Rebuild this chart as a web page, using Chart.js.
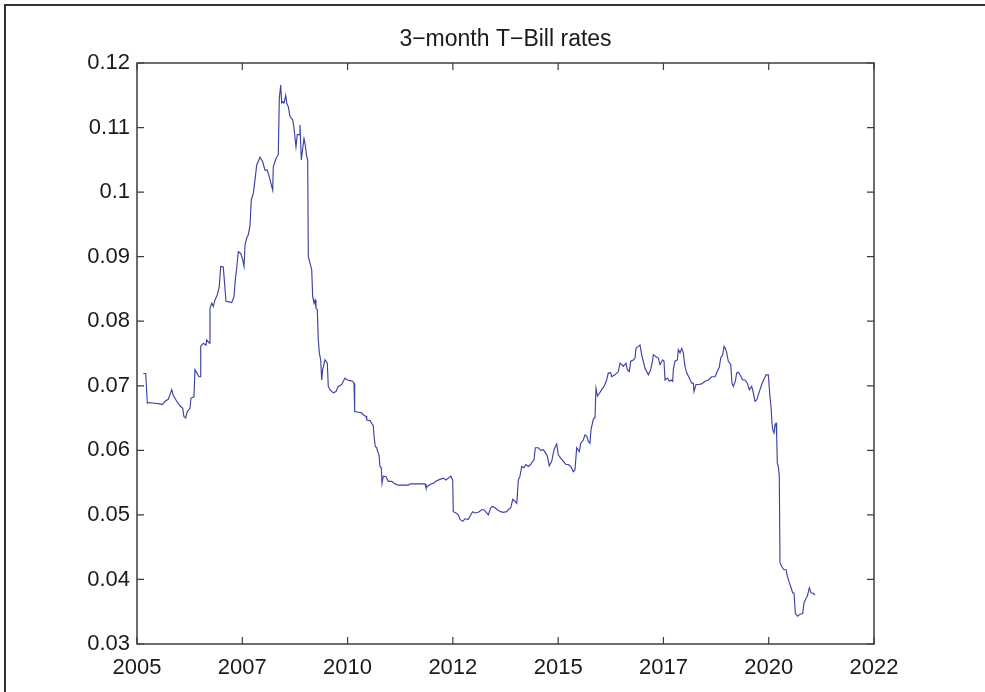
<!DOCTYPE html>
<html>
<head>
<meta charset="utf-8">
<title>3-month T-Bill rates</title>
<script src="https://cdn.jsdelivr.net/npm/chart.js@4/dist/chart.umd.min.js"></script>
<style>
  html, body { margin: 0; padding: 0; background: #ffffff; }
  #wrap { width: 985px; height: 692px; position: relative; }
</style>
</head>
<body>
<div id="wrap"><canvas id="chart" width="985" height="692"></canvas></div>
<script>
// Sample dates (decimal years) and the 3-month T-Bill rate at each
const sampleYears = [
  2005.150, 2005.207, 2005.245, 2005.285, 2005.427, 2005.546, 2005.601, 2005.665, 2005.743, 2005.824,
  2005.862, 2005.943, 2006.021, 2006.085, 2006.116, 2006.156, 2006.194, 2006.258, 2006.282, 2006.353,
  2006.377, 2006.418, 2006.472, 2006.496, 2006.513, 2006.574, 2006.638, 2006.655, 2006.717, 2006.733,
  2006.774, 2006.812, 2006.852, 2006.907, 2006.954, 2006.987, 2007.049, 2007.073, 2007.113, 2007.249,
  2007.303, 2007.334, 2007.367, 2007.405, 2007.462, 2007.510, 2007.541, 2007.565, 2007.605, 2007.643,
  2007.683, 2007.714, 2007.762, 2007.802, 2007.842, 2007.921, 2007.985, 2008.039, 2008.094, 2008.141,
  2008.198, 2008.222, 2008.236, 2008.301, 2008.355, 2008.379, 2008.412, 2008.436, 2008.460, 2008.491,
  2008.531, 2008.555, 2008.593, 2008.633, 2008.697, 2008.728, 2008.775, 2008.806, 2008.854, 2008.870,
  2008.901, 2008.935, 2008.965, 2008.996, 2009.030, 2009.053, 2009.068, 2009.108, 2009.148, 2009.172,
  2009.203, 2009.227, 2009.250, 2009.281, 2009.305, 2009.329, 2009.362, 2009.386, 2009.409, 2009.464,
  2009.519, 2009.542, 2009.583, 2009.661, 2009.725, 2009.780, 2009.861, 2009.939, 2009.994, 2010.058,
  2010.122, 2010.153, 2010.169, 2010.255, 2010.335, 2010.390, 2010.438, 2010.454, 2010.533, 2010.573,
  2010.611, 2010.628, 2010.659, 2010.692, 2010.715, 2010.746, 2010.770, 2010.801, 2010.818, 2010.848,
  2010.913, 2010.967, 2011.048, 2011.126, 2011.205, 2011.442, 2011.482, 2011.839, 2011.862, 2011.893,
  2011.957, 2012.036, 2012.116, 2012.195, 2012.273, 2012.337, 2012.392, 2012.449, 2012.496, 2012.511,
  2012.575, 2012.629, 2012.670, 2012.734, 2012.788, 2012.867, 2012.907, 2012.971, 2013.026, 2013.104,
  2013.185, 2013.240, 2013.304, 2013.342, 2013.398, 2013.446, 2013.501, 2013.555, 2013.636, 2013.698,
  2013.778, 2013.817, 2013.874, 2013.921, 2013.976, 2014.016, 2014.030, 2014.054, 2014.094, 2014.135,
  2014.189, 2014.237, 2014.292, 2014.348, 2014.396, 2014.427, 2014.458, 2014.529, 2014.586, 2014.648,
  2014.712, 2014.743, 2014.790, 2014.847, 2014.902, 2014.966, 2015.004, 2015.061, 2015.123, 2015.187,
  2015.241, 2015.298, 2015.360, 2015.400, 2015.441, 2015.503, 2015.536, 2015.597, 2015.638, 2015.678,
  2015.716, 2015.756, 2015.780, 2015.835, 2015.875, 2015.899, 2015.935, 2015.977, 2016.034, 2016.089,
  2016.153, 2016.191, 2016.248, 2016.272, 2016.350, 2016.429, 2016.469, 2016.509, 2016.547, 2016.611,
  2016.642, 2016.690, 2016.723, 2016.785, 2016.825, 2016.849, 2016.904, 2016.944, 2016.984, 2017.022,
  2017.062, 2017.103, 2017.141, 2017.198, 2017.245, 2017.260, 2017.324, 2017.379, 2017.419, 2017.483,
  2017.514, 2017.538, 2017.592, 2017.640, 2017.680, 2017.720, 2017.735, 2017.775, 2017.830, 2017.853,
  2017.894, 2017.934, 2017.972, 2018.012, 2018.053, 2018.114, 2018.171, 2018.209, 2018.226, 2018.273,
  2018.328, 2018.409, 2018.487, 2018.566, 2018.646, 2018.725, 2018.779, 2018.827, 2018.860, 2018.907,
  2018.938, 2018.970, 2019.003, 2019.041, 2019.098, 2019.128, 2019.159, 2019.207, 2019.240, 2019.278,
  2019.318, 2019.382, 2019.437, 2019.492, 2019.539, 2019.596, 2019.634, 2019.674, 2019.715, 2019.753,
  2019.793, 2019.833, 2019.888, 2019.935, 2019.990, 2020.030, 2020.054, 2020.078, 2020.094, 2020.125,
  2020.149, 2020.173, 2020.189, 2020.204, 2020.228, 2020.251, 2020.268, 2020.308, 2020.363, 2020.411,
  2020.442, 2020.489, 2020.522, 2020.570, 2020.601, 2020.632, 2020.680, 2020.743, 2020.807, 2020.838,
  2020.886, 2020.917, 2020.965, 2021.005, 2021.045, 2021.099
];

const billRates = [
  0.0719, 0.0719, 0.0673, 0.0674, 0.0673, 0.0672, 0.0671, 0.0676, 0.0679, 0.0694,
  0.0685, 0.0676, 0.0669, 0.0665, 0.0652, 0.0650, 0.0660, 0.0665, 0.0681, 0.0683,
  0.0725, 0.0720, 0.0714, 0.0714, 0.0761, 0.0766, 0.0763, 0.0771, 0.0766, 0.0820,
  0.0828, 0.0823, 0.0833, 0.0841, 0.0854, 0.0885, 0.0884, 0.0864, 0.0831, 0.0829,
  0.0838, 0.0864, 0.0882, 0.0908, 0.0905, 0.0895, 0.0885, 0.0918, 0.0929, 0.0934,
  0.0948, 0.0988, 0.0998, 0.1019, 0.1042, 0.1054, 0.1047, 0.1034, 0.1034, 0.1024,
  0.1009, 0.1003, 0.1039, 0.1052, 0.1058, 0.1145, 0.1166, 0.1138, 0.1140, 0.1138,
  0.1150, 0.1138, 0.1132, 0.1117, 0.1112, 0.1099, 0.1070, 0.1089, 0.1089, 0.1104,
  0.1050, 0.1068, 0.1083, 0.1073, 0.1055, 0.1050, 0.0900, 0.0890, 0.0880, 0.0838,
  0.0828, 0.0833, 0.0820, 0.0818, 0.0771, 0.0751, 0.0740, 0.0709, 0.0725, 0.0740,
  0.0735, 0.0699, 0.0694, 0.0689, 0.0691, 0.0699, 0.0702, 0.0712, 0.0709, 0.0708,
  0.0707, 0.0704, 0.0660, 0.0659, 0.0658, 0.0654, 0.0653, 0.0647, 0.0646, 0.0642,
  0.0638, 0.0622, 0.0606, 0.0604, 0.0598, 0.0593, 0.0575, 0.0573, 0.0549, 0.0560,
  0.0559, 0.0552, 0.0552, 0.0548, 0.0546, 0.0546, 0.0548, 0.0548, 0.0542, 0.0544,
  0.0547, 0.0549, 0.0553, 0.0555, 0.0557, 0.0554, 0.0557, 0.0560, 0.0554, 0.0505,
  0.0503, 0.0500, 0.0493, 0.0490, 0.0494, 0.0493, 0.0498, 0.0505, 0.0503, 0.0504,
  0.0508, 0.0508, 0.0503, 0.0500, 0.0511, 0.0513, 0.0511, 0.0508, 0.0505, 0.0504,
  0.0505, 0.0508, 0.0511, 0.0524, 0.0521, 0.0518, 0.0529, 0.0554, 0.0560, 0.0575,
  0.0573, 0.0578, 0.0575, 0.0578, 0.0583, 0.0585, 0.0604, 0.0604, 0.0600, 0.0601,
  0.0595, 0.0591, 0.0576, 0.0583, 0.0601, 0.0610, 0.0593, 0.0588, 0.0583, 0.0578,
  0.0578, 0.0575, 0.0567, 0.0570, 0.0604, 0.0598, 0.0611, 0.0616, 0.0624, 0.0622,
  0.0614, 0.0611, 0.0632, 0.0648, 0.0651, 0.0696, 0.0684, 0.0688, 0.0694, 0.0699,
  0.0709, 0.0720, 0.0720, 0.0714, 0.0717, 0.0722, 0.0735, 0.0733, 0.0730, 0.0735,
  0.0725, 0.0722, 0.0738, 0.0740, 0.0743, 0.0758, 0.0761, 0.0763, 0.0748, 0.0738,
  0.0727, 0.0722, 0.0717, 0.0725, 0.0740, 0.0748, 0.0745, 0.0743, 0.0733, 0.0740,
  0.0738, 0.0709, 0.0712, 0.0707, 0.0709, 0.0707, 0.0725, 0.0738, 0.0740, 0.0756,
  0.0751, 0.0758, 0.0751, 0.0730, 0.0720, 0.0712, 0.0704, 0.0704, 0.0691, 0.0702,
  0.0702, 0.0703, 0.0707, 0.0709, 0.0714, 0.0714, 0.0722, 0.0729, 0.0743, 0.0748,
  0.0761, 0.0758, 0.0751, 0.0738, 0.0733, 0.0704, 0.0699, 0.0707, 0.0720, 0.0721,
  0.0717, 0.0709, 0.0709, 0.0704, 0.0694, 0.0699, 0.0689, 0.0676, 0.0678, 0.0686,
  0.0694, 0.0702, 0.0710, 0.0717, 0.0717, 0.0683, 0.0668, 0.0642, 0.0632, 0.0627,
  0.0640, 0.0642, 0.0622, 0.0580, 0.0575, 0.0560, 0.0426, 0.0420, 0.0415, 0.0415,
  0.0405, 0.0395, 0.0389, 0.0379, 0.0379, 0.0348, 0.0343, 0.0346, 0.0347, 0.0364,
  0.0371, 0.0374, 0.0387, 0.0379, 0.0379, 0.0376
];

// Axis ticks and their labels
const xTickValues = [2005, 2007.5, 2010, 2012.5, 2015, 2017.5, 2020, 2022.5];
const xTickLabels = ['2005', '2007', '2010', '2012', '2015', '2017', '2020', '2022'];
const yTickValues = [0.03, 0.04, 0.05, 0.06, 0.07, 0.08, 0.09, 0.10, 0.11, 0.12];
const yTickLabels = ['0.03', '0.04', '0.05', '0.06', '0.07', '0.08', '0.09', '0.1', '0.11', '0.12'];

const chartTitle = '3\u2212month T\u2212Bill rates';

const nPts = Math.min(sampleYears.length, billRates.length);
const points = [];
for (let i = 0; i < nPts; i++) points.push({ x: sampleYears[i], y: billRates[i] });

const FONT = '"Liberation Sans", Arial, Helvetica, sans-serif';
const AXIS_COLOR = '#3c3c3c';
const TICK_LEN = 7;

// Boxed axes with inward ticks on all four sides, plus the outer frame
const boxAxes = {
  id: 'boxAxes',
  beforeDraw(chart) {
    const ctx = chart.ctx;
    ctx.save();
    ctx.fillStyle = '#ffffff';
    ctx.fillRect(0, 0, chart.width, chart.height);
    ctx.strokeStyle = '#333333';
    ctx.lineWidth = 2;
    ctx.beginPath();
    ctx.moveTo(5, chart.height);
    ctx.lineTo(5, 5);
    ctx.lineTo(chart.width, 5);
    ctx.stroke();
    ctx.restore();
  },
  afterDatasetsDraw(chart) {
    const { ctx, chartArea: a, scales } = chart;
    ctx.save();
    ctx.strokeStyle = AXIS_COLOR;
    ctx.lineWidth = 1.5;
    ctx.strokeRect(a.left, a.top, a.right - a.left, a.bottom - a.top);
    ctx.lineWidth = 1.2;
    ctx.beginPath();
    xTickValues.forEach(v => {
      const px = scales.x.getPixelForValue(v);
      ctx.moveTo(px, a.bottom); ctx.lineTo(px, a.bottom - TICK_LEN);
      ctx.moveTo(px, a.top); ctx.lineTo(px, a.top + TICK_LEN);
    });
    yTickValues.forEach(v => {
      const py = scales.y.getPixelForValue(v);
      ctx.moveTo(a.left, py); ctx.lineTo(a.left + TICK_LEN, py);
      ctx.moveTo(a.right, py); ctx.lineTo(a.right - TICK_LEN, py);
    });
    ctx.stroke();
    ctx.restore();
  }
};

new Chart(document.getElementById('chart'), {
  type: 'line',
  data: {
    datasets: [{
      data: points,
      borderColor: '#3b42a3',
      borderWidth: 1.15,
      pointRadius: 0,
      tension: 0,
      fill: false
    }]
  },
  options: {
    responsive: false,
    animation: false,
    devicePixelRatio: 1,
    // left padding + equal-width side axes keep the title centred over the plot box
    layout: { padding: { left: 26, right: 0, top: 0, bottom: 0 } },
    plugins: {
      legend: { display: false },
      tooltip: { enabled: false },
      title: {
        display: true,
        text: chartTitle,
        color: '#1a1a1a',
        font: { family: FONT, size: 23, weight: 'normal', lineHeight: 1.2 },
        padding: { top: 26, bottom: 9.4 }
      }
    },
    scales: {
      x: {
        type: 'linear',
        min: 2005,
        max: 2022.5,
        grid: { display: false, drawTicks: false },
        border: { display: false },
        afterBuildTicks(scale) { scale.ticks = xTickValues.map(v => ({ value: v })); },
        afterFit(scale) { scale.height = 48; },
        ticks: {
          autoSkip: false,
          maxRotation: 0,
          padding: 11,
          color: '#1a1a1a',
          font: { family: FONT, size: 22 },
          callback: (v, i) => xTickLabels[i]
        }
      },
      y: {
        type: 'linear',
        position: 'left',
        min: 0.03,
        max: 0.12,
        grid: { display: false, drawTicks: false },
        border: { display: false },
        afterBuildTicks(scale) { scale.ticks = yTickValues.map(v => ({ value: v })); },
        afterFit(scale) { scale.width = 111; },
        ticks: {
          autoSkip: false,
          padding: 7,
          color: '#1a1a1a',
          font: { family: FONT, size: 22 },
          callback: (v, i) => yTickLabels[i]
        }
      },
      yRight: {
        type: 'linear',
        position: 'right',
        min: 0.03,
        max: 0.12,
        grid: { display: false, drawTicks: false },
        border: { display: false },
        ticks: { display: false },
        afterFit(scale) { scale.width = 111; }
      }
    }
  },
  plugins: [boxAxes]
});
</script>
</body>
</html>
